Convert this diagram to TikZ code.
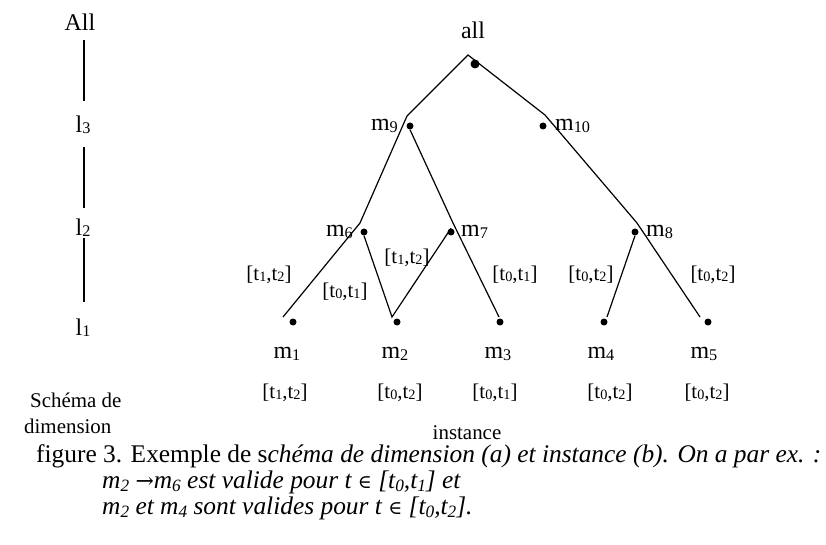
\documentclass[tikz,border=0pt]{standalone}
\usepackage{fontspec}
\usepackage{graphicx}
\setmainfont{Liberation Serif}
\newfontfamily\dvs{DejaVu Serif}
\newcommand\dn[1]{\raisebox{-0.12ex}{\scalebox{0.68}{#1}}}
\newcommand\idn[1]{\raisebox{-0.3ex}{\scalebox{0.68}{#1}}}
\newcommand\ivl[2]{[t\dn{#1},t\dn{#2}]}
\begin{document}
\begin{tikzpicture}[x=1bp,y=-1bp,
  lbl/.style={inner sep=0pt,font=\fontsize{24}{26}\selectfont},
  ivs/.style={inner sep=0pt,font=\fontsize{21}{23}\selectfont},
  txt/.style={inner sep=0pt,font=\fontsize{21}{23}\selectfont},
  captext/.style={inner sep=0pt,anchor=west,font=\fontsize{25.5}{27}\selectfont},
  pdot/.style={circle,fill=black,inner sep=0pt,minimum size=7bp},
  bigdot/.style={circle,fill=black,inner sep=0pt,minimum size=9bp},
  conn/.style={line width=1.2bp}]
\useasboundingbox (0,0) rectangle (826,545);
% ---- schema de dimension
\node[lbl] (All) at (80,22) {All};
\node[lbl] (l3) at (83,125) {l\dn{3}};
\node[lbl] (l2) at (83,228) {l\dn{2}};
\node[lbl] (l1) at (83,328) {l\dn{1}};
\coordinate (s1) at (84,40);  \coordinate (s2) at (84,101);
\coordinate (s3) at (84,147); \coordinate (s4) at (84,208);
\coordinate (s5) at (84,238); \coordinate (s6) at (84,302);
\draw[conn] (s1) -- (s2);
\draw[conn] (s3) -- (s4);
\draw[conn] (s5) -- (s6);
\node[txt,anchor=west] (sch1) at (30,400) {Schéma de};
\node[txt,anchor=west] (sch2) at (24,426) {dimension};
% ---- instance
\node[lbl] (allt) at (473,30) {all};
\coordinate (apex) at (468,55);
\node[bigdot] (dall) at (475,64) {};
\coordinate (j9) at (407,116);
\node[pdot] (d9) at (410,126) {};
\node[lbl,anchor=east] (t9) at (398,126) {m\dn{9}};
\coordinate (j10) at (545,115);
\node[pdot] (d10) at (543,126) {};
\node[lbl,anchor=west] (t10) at (555,126) {m\dn{10}};
\coordinate (j6) at (360,223);
\node[pdot] (d6) at (364,232) {};
\node[lbl,anchor=east] (t6) at (353,232) {m\dn{6}};
\coordinate (j7) at (453,223);
\node[pdot] (d7) at (451,232) {};
\node[lbl,anchor=west] (t7) at (461,232) {m\dn{7}};
\coordinate (j8) at (637,223);
\node[pdot] (d8) at (635,232) {};
\node[lbl,anchor=west] (t8) at (646,232) {m\dn{8}};
\coordinate (e1) at (283,317);
\coordinate (e2) at (392,317);
\coordinate (e3) at (499,317);
\coordinate (e4) at (607,317);
\coordinate (e5) at (700,317);
\node[pdot] (d1) at (293,322) {};
\node[pdot] (d2) at (397,322) {};
\node[pdot] (d3) at (500,322) {};
\node[pdot] (d4) at (604,322) {};
\node[pdot] (d5) at (708,322) {};
\draw[conn] (j9) -- (apex) -- (j10) -- (j8) -- (e5);
\draw[conn] (e1) -- (j6) -- (j9);
\draw[conn] (d9.south) -- (j7) -- (e3);
\draw[conn] (d6.south) -- (e2) -- (d7.north);
\draw[conn] (d8.south) -- (e4);
\node[ivs] (i61) at (269,275) {\ivl{1}{2}};
\node[ivs] (i62) at (345,292) {\ivl{0}{1}};
\node[ivs] (i72) at (407,258) {\ivl{1}{2}};
\node[ivs] (i73) at (515,275) {\ivl{0}{1}};
\node[ivs] (i84) at (591,275) {\ivl{0}{2}};
\node[ivs] (i85) at (713,275) {\ivl{0}{2}};
\node[lbl] (m1) at (287,354) {m\dn{1}};
\node[lbl] (m2) at (395,354) {m\dn{2}};
\node[lbl] (m3) at (498,354) {m\dn{3}};
\node[lbl] (m4) at (601,354) {m\dn{4}};
\node[lbl] (m5) at (704,354) {m\dn{5}};
\node[ivs] (v1) at (285,393) {\ivl{1}{2}};
\node[ivs] (v2) at (400,393) {\ivl{0}{2}};
\node[ivs] (v3) at (495,393) {\ivl{0}{1}};
\node[ivs] (v4) at (610,393) {\ivl{0}{2}};
\node[ivs] (v5) at (707,393) {\ivl{0}{2}};
\node[txt] (inst) at (467,433) {instance};
% ---- caption
\node[captext] (c1) at (36,456) {figure 3. Exemple de s\textit{chéma de dimension (a) et instance (b). On a par ex. :}};
\node[captext] (c2) at (102,482) {\itshape m\idn{2} {\upshape\dvs\fontsize{22}{24}\selectfont→}m\idn{6} est valide pour t {\upshape\dvs\fontsize{19}{22}\selectfont∈} [t\idn{0},t\idn{1}] et};
\node[captext] (c3) at (102,508) {\itshape m\idn{2} et m\idn{4} sont valides pour t {\upshape\dvs\fontsize{19}{22}\selectfont∈} [t\idn{0},t\idn{2}].};
\end{tikzpicture}
\end{document}
